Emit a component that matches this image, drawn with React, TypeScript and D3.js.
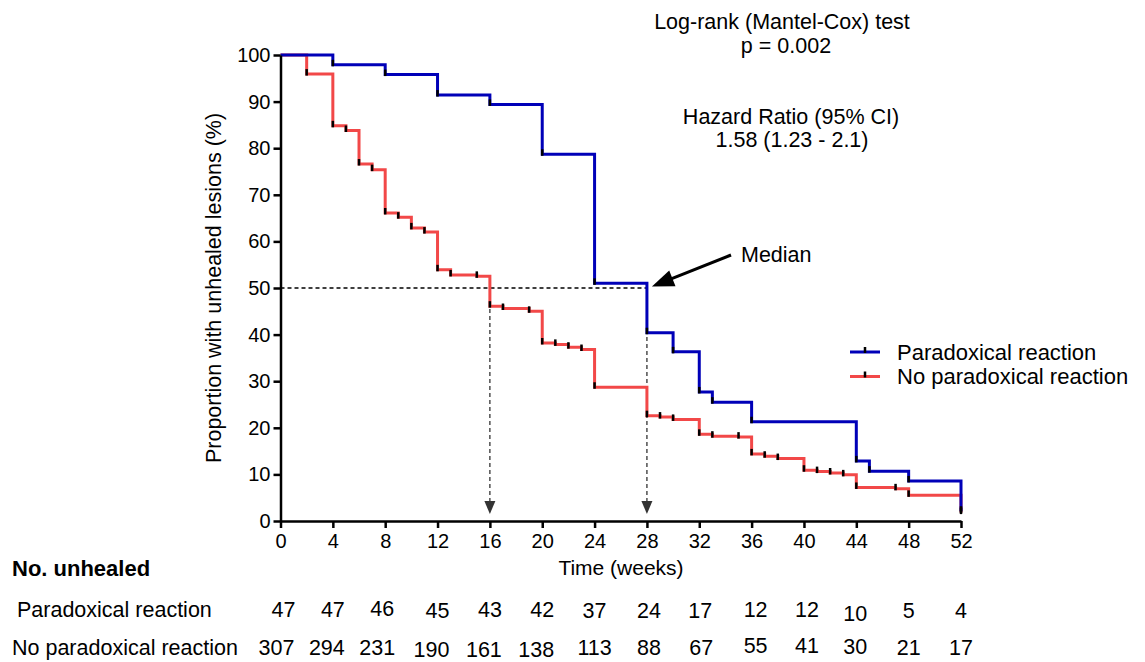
import React, { useEffect, useRef } from "react";
import * as d3 from "d3";

// axis ticks
const weekTicks = [0, 4, 8, 12, 16, 20, 24, 28, 32, 36, 40, 44, 48, 52];
const percentTicks = [0, 10, 20, 30, 40, 50, 60, 70, 80, 90, 100];

// Kaplan-Meier steps (time in weeks, % unhealed)
const paradoxTimes = [0, 4, 8, 12, 16, 20, 24, 28, 30, 32, 33, 36, 44, 45, 48, 52];
const paradoxValues = [100, 97.9, 95.8, 91.4, 89.4, 78.7, 51.0, 40.4, 36.3, 27.7, 25.5, 21.3, 12.9, 10.7, 8.6, 2.1];

const noParadoxTimes = [
  0, 2, 4, 5, 6, 7, 8, 9, 10, 11, 12, 13, 15, 16, 17, 19, 20, 21, 22, 23, 24,
  28, 29, 30, 32, 33, 35, 36, 37, 38, 40, 41, 42, 43, 44, 47, 48, 52,
];
const noParadoxValues = [
  100, 95.9, 84.8, 83.8, 76.6, 75.4, 66.1, 65.2, 62.9, 62.0, 53.9, 52.8, 52.5,
  46.1, 45.6, 45.0, 38.2, 37.9, 37.3, 36.8, 28.7, 22.6, 22.3, 21.8, 18.6, 18.2,
  18.0, 14.4, 13.9, 13.4, 10.9, 10.6, 10.3, 9.9, 7.2, 6.9, 5.5, 1.8,
];

// number at risk table
const paradoxAtRisk = [47, 47, 46, 45, 43, 42, 37, 24, 17, 12, 12, 10, 5, 4];
const noParadoxAtRisk = [307, 294, 231, 190, 161, 138, 113, 88, 67, 55, 41, 30, 21, 17];

// medians
const medianLevel = 50;
const medianTimes = [16, 28];

const seriesNames = ["Paradoxical reaction", "No paradoxical reaction"];
const statLines = ["Log-rank (Mantel-Cox) test", "p = 0.002"];
const hazardLines = ["Hazard Ratio (95% CI)", "1.58 (1.23 - 2.1)"];

const FONT = "'Liberation Sans', Arial, Helvetica, sans-serif";
const BLUE = "#0000b8";
const RED = "#f24848";

// small nudges of the table numbers (layout only)
const noParadoxNudgeX = [-4, -6, -8, -6, -6, -6, 0, 2, 2, 4, 3, -1, 0, 0];
const noParadoxNudgeY = [0, 0, 0, 2, 2, 2, 0, 0, 0, -2, -2, -1, 0, 0];
const paradoxNudgeX = [3, 0, -3, 0, 0, 0, 0, 2, 1, 4, 3, -1, 0, 0];
const paradoxNudgeY = [0, 0, -1, 1, 0, 0, 1, 1, 1, 0, 0, 4, 1, 1];

export default function App() {
  const svgRef = useRef<SVGSVGElement>(null);

  useEffect(() => {
    if (!svgRef.current) return;
    const svg = d3.select(svgRef.current);
    svg.selectAll("*").remove();

    const x = d3.scaleLinear().domain([0, 52]).range([280.5, 961]);
    const y = d3.scaleLinear().domain([0, 100]).range([521, 55]);

    // median guide lines (under the curves)
    const guides = svg.append("g");
    guides
      .append("line")
      .attr("x1", x(0))
      .attr("x2", x(28))
      .attr("y1", y(medianLevel))
      .attr("y2", y(medianLevel))
      .attr("stroke", "#000")
      .attr("stroke-width", 1.3)
      .attr("stroke-dasharray", "4,3");

    medianTimes.forEach((t) => {
      const tipY = y(0) - 7;
      guides
        .append("line")
        .attr("x1", x(t))
        .attr("x2", x(t))
        .attr("y1", y(medianLevel))
        .attr("y2", tipY - 10)
        .attr("stroke", "#333")
        .attr("stroke-width", 1.3)
        .attr("stroke-dasharray", "4,3");
      guides
        .append("polygon")
        .attr(
          "points",
          `${x(t) - 5.5},${tipY - 13} ${x(t) + 5.5},${tipY - 13} ${x(t)},${tipY}`
        )
        .attr("fill", "#333");
    });

    // survival curves
    const stepLine = d3
      .line<[number, number]>()
      .x((d) => x(d[0]))
      .y((d) => y(d[1]))
      .curve(d3.curveStepAfter);

    const curves = [
      { times: noParadoxTimes, values: noParadoxValues, color: RED },
      { times: paradoxTimes, values: paradoxValues, color: BLUE },
    ];

    curves.forEach((c) => {
      const pts = c.times.map((t, i) => [t, c.values[i]] as [number, number]);
      svg
        .append("path")
        .attr("d", stepLine(pts))
        .attr("fill", "none")
        .attr("stroke", c.color)
        .attr("stroke-width", 3);
    });

    // censor ticks
    curves.forEach((c) => {
      svg
        .append("g")
        .selectAll("line")
        .data(c.times.slice(1).map((t, i) => [t, c.values[i + 1]]))
        .enter()
        .append("line")
        .attr("x1", (d) => x(d[0]))
        .attr("x2", (d) => x(d[0]))
        .attr("y1", (d) => y(d[1]) - 5)
        .attr("y2", (d) => y(d[1]) + 1.5)
        .attr("stroke", "#000")
        .attr("stroke-width", 2.5);
    });

    // axes
    const yAxis = svg
      .append("g")
      .attr("transform", `translate(${x(0)},0)`)
      .call(
        d3
          .axisLeft(y)
          .tickValues(percentTicks)
          .tickSize(7)
          .tickSizeOuter(0)
          .tickPadding(3)
      );
    const xAxis = svg
      .append("g")
      .attr("transform", `translate(0,${y(0)})`)
      .call(
        d3
          .axisBottom(x)
          .tickValues(weekTicks)
          .tickSize(7)
          .tickSizeOuter(0)
          .tickPadding(6)
      );
    [yAxis, xAxis].forEach((ax) => {
      ax.attr("font-family", FONT).attr("font-size", 20);
      ax.select(".domain").attr("stroke", "#000").attr("stroke-width", 2.5);
      ax.selectAll(".tick line").attr("stroke", "#000").attr("stroke-width", 2.5);
      ax.selectAll(".tick text").attr("fill", "#000");
    });

    // axis titles
    svg
      .append("text")
      .attr("transform", `translate(214,${(y(0) + y(100)) / 2}) rotate(-90)`)
      .attr("text-anchor", "middle")
      .attr("dominant-baseline", "central")
      .attr("font-family", FONT)
      .attr("font-size", 21.5)
      .text("Proportion with unhealed lesions (%)");

    svg
      .append("text")
      .attr("x", 621)
      .attr("y", 567)
      .attr("text-anchor", "middle")
      .attr("dominant-baseline", "central")
      .attr("font-family", FONT)
      .attr("font-size", 21)
      .text("Time (weeks)");

    // statistics text
    const addLine = (txt: string, cx: number, cy: number) =>
      svg
        .append("text")
        .attr("x", cx)
        .attr("y", cy)
        .attr("text-anchor", "middle")
        .attr("dominant-baseline", "central")
        .attr("font-family", FONT)
        .attr("font-size", 21.5)
        .text(txt);
    addLine(statLines[0], 782, 22);
    addLine(statLines[1], 786, 46);
    addLine(hazardLines[0], 791, 117);
    addLine(hazardLines[1], 792, 140);

    // median annotation arrow
    const tip = [x(28) + 5, y(medianLevel) - 1.5];
    const tail = [731, 255];
    const dx = tip[0] - tail[0];
    const dy = tip[1] - tail[1];
    const len = Math.hypot(dx, dy);
    const ux = dx / len;
    const uy = dy / len;
    const headLen = 22;
    const headW = 8.5;
    const bx = tip[0] - ux * headLen;
    const by = tip[1] - uy * headLen;
    svg
      .append("line")
      .attr("x1", tail[0])
      .attr("y1", tail[1])
      .attr("x2", bx + ux * 2)
      .attr("y2", by + uy * 2)
      .attr("stroke", "#000")
      .attr("stroke-width", 3);
    svg
      .append("polygon")
      .attr(
        "points",
        `${tip[0]},${tip[1]} ${bx - uy * headW},${by + ux * headW} ${bx + uy * headW},${by - ux * headW}`
      )
      .attr("fill", "#000");
    svg
      .append("text")
      .attr("x", 741)
      .attr("y", 255)
      .attr("dominant-baseline", "central")
      .attr("font-family", FONT)
      .attr("font-size", 21.5)
      .text("Median");

    // legend
    const legend = svg.append("g");
    [BLUE, RED].forEach((col, i) => {
      const ly = 352 + i * 24.5;
      legend
        .append("line")
        .attr("x1", 850)
        .attr("x2", 880)
        .attr("y1", ly)
        .attr("y2", ly)
        .attr("stroke", col)
        .attr("stroke-width", 3);
      legend
        .append("line")
        .attr("x1", 865)
        .attr("x2", 865)
        .attr("y1", ly - 5)
        .attr("y2", ly + 1)
        .attr("stroke", "#000")
        .attr("stroke-width", 2.5);
      legend
        .append("text")
        .attr("x", 897)
        .attr("y", ly)
        .attr("dominant-baseline", "central")
        .attr("font-family", FONT)
        .attr("font-size", 22)
        .text(seriesNames[i]);
    });

    // number at risk table
    svg
      .append("text")
      .attr("x", 12)
      .attr("y", 568)
      .attr("dominant-baseline", "central")
      .attr("font-family", FONT)
      .attr("font-size", 22)
      .attr("font-weight", "bold")
      .text("No. unhealed");

    const rows = [
      { label: seriesNames[0], lx: 17, cy: 610, vals: paradoxAtRisk, nx: paradoxNudgeX, ny: paradoxNudgeY },
      { label: seriesNames[1], lx: 12, cy: 648, vals: noParadoxAtRisk, nx: noParadoxNudgeX, ny: noParadoxNudgeY },
    ];
    rows.forEach((r) => {
      svg
        .append("text")
        .attr("x", r.lx)
        .attr("y", r.cy)
        .attr("dominant-baseline", "central")
        .attr("font-family", FONT)
        .attr("font-size", 21.5)
        .text(r.label);
      svg
        .append("g")
        .selectAll("text")
        .data(r.vals)
        .enter()
        .append("text")
        .attr("x", (d, i) => x(weekTicks[i]) + r.nx[i])
        .attr("y", (d, i) => r.cy + r.ny[i])
        .attr("text-anchor", "middle")
        .attr("dominant-baseline", "central")
        .attr("font-family", FONT)
        .attr("font-size", 21.5)
        .text((d) => d);
    });
  }, []);

  return (
    <svg
      ref={svgRef}
      width={1145}
      height={662}
      style={{ position: "absolute", left: 0, top: 0, background: "#fff" }}
    />
  );
}
